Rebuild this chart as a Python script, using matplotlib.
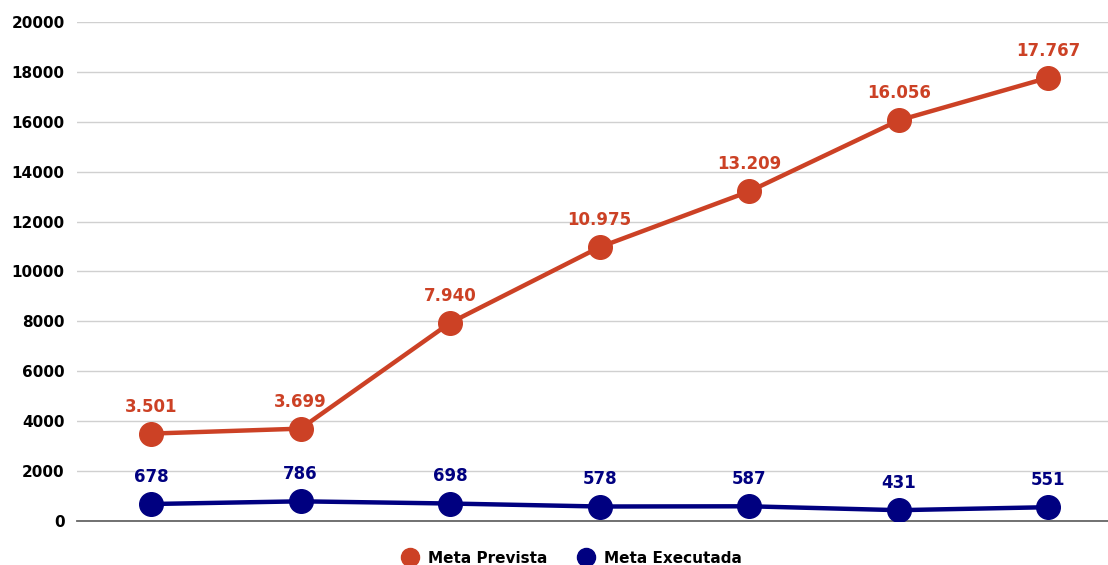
import matplotlib

matplotlib.use("Agg")
import matplotlib.pyplot as plt
from matplotlib.lines import Line2D

periods = ["P1", "P2", "P3", "P4", "P5", "P6", "P7"]
meta_prevista = [3501, 3699, 7940, 10975, 13209, 16056, 17767]
meta_executada = [678, 786, 698, 578, 587, 431, 551]
y_ticks = [0, 2000, 4000, 6000, 8000, 10000, 12000, 14000, 16000, 18000, 20000]

RED = "#cc4125"
BLUE = "#000080"

plt.rcParams["font.family"] = ["DejaVu Sans"]


def fmt(v):
    return f"{v:,}".replace(",", ".")


fig = plt.figure(figsize=(11.08, 5.65), dpi=100)
ax = fig.add_axes([0.0695, 0.078, 0.9305, 0.883])

x = list(range(len(periods)))
ax.plot(x, meta_prevista, color=RED, lw=3.2, marker="o", ms=17, zorder=3)
ax.plot(x, meta_executada, color=BLUE, lw=3.2, marker="o", ms=17, zorder=3)

for xi, v in zip(x, meta_prevista):
    ax.annotate(fmt(v), (xi, v), xytext=(0, 13), textcoords="offset points",
                ha="center", va="bottom", color=RED, fontsize=12, fontweight="bold")
for xi, v in zip(x, meta_executada):
    ax.annotate(fmt(v), (xi, v), xytext=(0, 13), textcoords="offset points",
                ha="center", va="bottom", color=BLUE, fontsize=12, fontweight="bold")

ax.set_xlim(-0.495, 6.4)
ax.set_ylim(0, 20000)
ax.set_yticks(y_ticks)
ax.set_yticklabels([str(t) for t in y_ticks], fontsize=11, fontweight="bold")
ax.set_xticks([])
ax.tick_params(axis="y", length=0, pad=9)
ax.grid(axis="y", color="#d0d0d0", lw=1)
ax.set_axisbelow(True)
for s in ["top", "right", "left"]:
    ax.spines[s].set_visible(False)
ax.spines["bottom"].set_color("#666666")
ax.spines["bottom"].set_linewidth(1.3)

handles = [
    Line2D([], [], ls="none", marker="o", ms=13, color=RED),
    Line2D([], [], ls="none", marker="o", ms=13, color=BLUE),
]
fig.legend(handles, ["Meta Prevista", "Meta Executada"], loc="center",
           bbox_to_anchor=(0.513, 0.012), ncol=2, frameon=False,
           prop={"size": 11, "weight": "bold"}, handletextpad=0.2,
           columnspacing=1.5)

fig.savefig("out.png", dpi=100)
